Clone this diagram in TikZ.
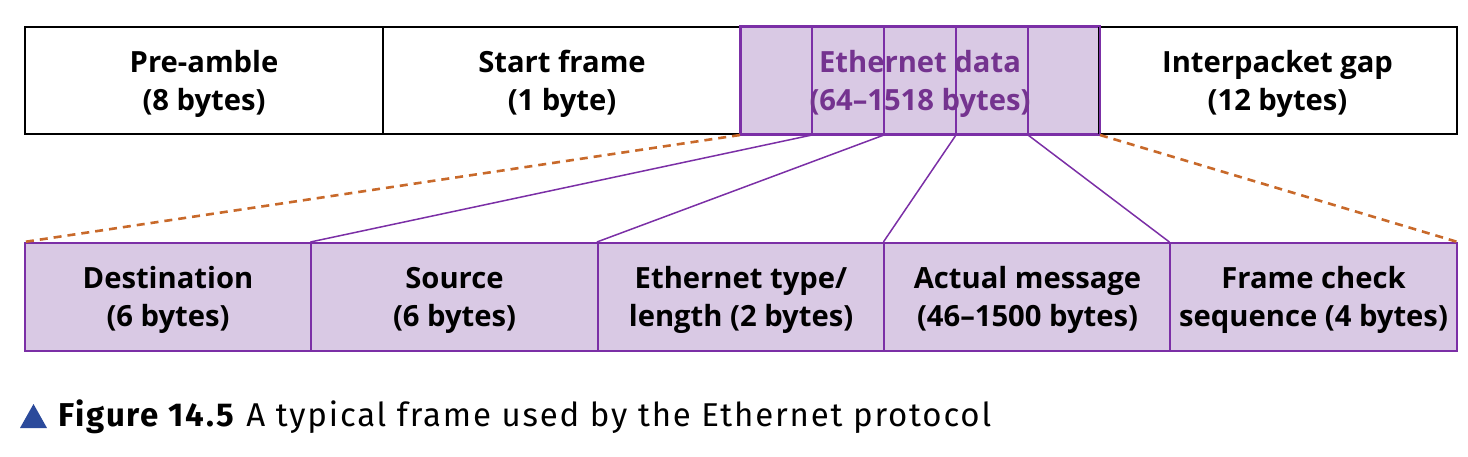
\documentclass[tikz,border=0pt]{standalone}
\usepackage{fontspec}
\setmainfont{Open Sans}
\newfontfamily\capfont[LetterSpace=5.5]{Fira Sans}
\usetikzlibrary{calc}
\definecolor{boxpurple}{HTML}{7B2FA6}
\definecolor{fillpurple}{HTML}{D9C9E4}
\definecolor{textpurple}{HTML}{74338F}
\definecolor{dashorange}{HTML}{C8692A}
\definecolor{capblue}{HTML}{2B4A9B}
\begin{document}
\begin{tikzpicture}[x=0.5pt,y=-0.5pt,
  topbox/.style={draw=black,line width=1pt,minimum width=179pt,minimum height=53.5pt,inner sep=0pt},
  botbox/.style={draw=boxpurple,fill=fillpurple,line width=1pt,minimum width=143.1pt,minimum height=54pt,inner sep=0pt},
  lbl/.style={align=center,inner sep=0pt,font=\fontsize{14.6}{19}\selectfont\bfseries},
  subline/.style={draw=boxpurple,line width=0.8pt},
  link/.style={draw=boxpurple,line width=0.75pt},
  dlink/.style={draw=dashorange,line width=1.3pt,dash pattern=on 4pt off 3pt}]
\useasboundingbox (0,0) rectangle (1468,456);
% top row
\node[topbox] (pre) at (204,80.5) {};
\node[topbox] (sf) at (562,80.5) {};
\node[topbox,draw=boxpurple,fill=fillpurple] (eth) at (920,80.5) {};
\node[topbox] (gap) at (1277.5,80.5) {};
\foreach \i in {1,2,3,4}{
  \coordinate (t\i) at ($(eth.north west)!\i/5!(eth.north east)$);
  \coordinate (b\i) at ($(eth.south west)!\i/5!(eth.south east)$);
  \draw[subline] (t\i) -- (b\i);
}
\draw[draw=boxpurple,line width=1pt] (eth.south west) rectangle (eth.north east);
\node[lbl] (prelabel) at ($(pre.center)+(0,3)$) {Pre-amble\\(8 bytes)};
\node[lbl] (sflabel) at ($(sf.center)+(0,3)$) {Start frame\\(1 byte)};
\node[lbl,text=textpurple] (ethlabel) at ($(eth.center)+(0,3)$) {Ethernet data\\(64–1518 bytes)};
\node[lbl] (gaplabel) at ($(gap.center)+(0,3)$) {Interpacket gap\\(12 bytes)};
% bottom row
\node[botbox] (dst) at (168,297) {};
\node[botbox] (src) at (454.5,297) {};
\node[botbox] (typ) at (741,297) {};
\node[botbox] (msg) at (1027.5,297) {};
\node[botbox] (fcs) at (1313.5,297) {};
\node[lbl] (dstlabel) at ($(dst.center)+(0,3)$) {Destination\\(6 bytes)};
\node[lbl] (srclabel) at ($(src.center)+(0,3)$) {Source\\(6 bytes)};
\node[lbl] (typlabel) at ($(typ.center)+(0,3)$) {Ethernet type/\\length (2 bytes)};
\node[lbl] (msglabel) at ($(msg.center)+(0,3)$) {Actual message\\(46–1500 bytes)};
\node[lbl] (fcslabel) at ($(fcs.center)+(0,3)$) {Frame check\\sequence (4 bytes)};
% connectors
\draw[dlink] (eth.south west) -- (dst.north west);
\draw[dlink] (eth.south east) -- (fcs.north east);
\draw[link] (b1) -- (src.north west);
\draw[link] (b2) -- (typ.north west);
\draw[link] (b3) -- (msg.north west);
\draw[link] (b4) -- (fcs.north west);
% caption
\fill[capblue] (20,428) -- (47,428) -- (33.5,404) -- cycle;
\node[anchor=base west,inner sep=0pt,font=\capfont\fontsize{16.5}{19}\selectfont] (cap) at (58,426) {\textbf{Figure 14.5} A typical frame used by the Ethernet protocol};
\end{tikzpicture}
\end{document}
